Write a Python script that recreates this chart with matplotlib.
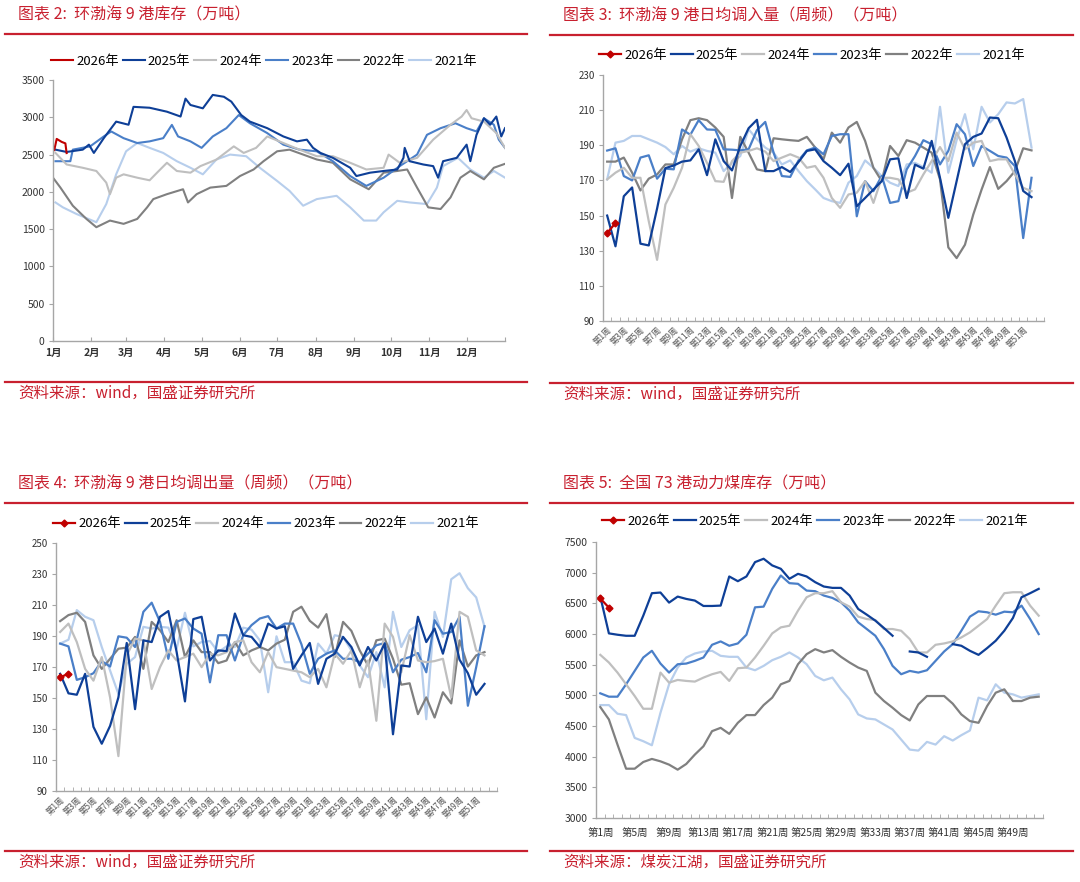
import matplotlib
matplotlib.use("Agg")
import matplotlib.pyplot as plt
import numpy as np
from matplotlib.lines import Line2D

plt.rcParams["font.family"] = ["Noto Sans CJK SC", "DejaVu Sans"]
plt.rcParams["axes.unicode_minus"] = False

W, H = 1080, 882
RED = "#C8202F"
AXIS_GREY = "#A6A6A6"
TEXT_GREY = "#333333"

years = ["2026年", "2025年", "2024年", "2023年", "2022年", "2021年"]
year_colors = ["#C00000", "#0E3F97", "#BFBFBF", "#4A7FC8", "#808080", "#B7CEEC"]

# ---- chart 2: 环渤海9港库存 (day of year, 万吨) ----
month_starts = [0, 31, 59, 90, 120, 151, 181, 212, 243, 273, 304, 334, 365]
month_labels = [f"{m}月" for m in range(1, 13)]

inv_days_2026 = [1, 3, 7, 10, 11]
inv_2026 = [2560, 2710, 2670, 2650, 2520]
inv_days_2025 = [2, 11, 24, 29, 33, 41, 51, 61, 65, 78, 92, 103, 107, 111, 121, 129, 138, 144,
                 152, 159, 173, 186, 197, 205, 210, 216, 226, 240, 245, 256, 267, 278, 283, 284,
                 288, 299, 307, 311, 315, 326, 334, 337, 342, 348, 353, 358, 362, 365]
inv_2025 = [2566, 2535, 2566, 2633, 2522, 2720, 2942, 2900, 3140, 3128, 3075, 3010, 3250, 3165,
            3120, 3300, 3275, 3210, 3030, 2942, 2854, 2743, 2677, 2700, 2590, 2522, 2456, 2323,
            2212, 2257, 2280, 2300, 2456, 2590, 2411, 2367, 2345, 2190, 2411, 2456, 2633, 2411,
            2765, 2987, 2900, 3010, 2743, 2854]
inv_days_2024 = [2, 11, 24, 35, 43, 46, 51, 57, 68, 78, 84, 92, 100, 111, 119, 132, 146, 154,
                 164, 173, 186, 199, 213, 226, 240, 253, 267, 271, 280, 294, 307, 321, 330, 334,
                 338, 348, 358, 365]
inv_2024 = [2522, 2367, 2323, 2280, 2124, 1969, 2190, 2235, 2190, 2155, 2257, 2390, 2280, 2257,
            2345, 2433, 2610, 2522, 2590, 2743, 2655, 2566, 2478, 2478, 2390, 2300, 2323, 2500,
            2390, 2456, 2700, 2900, 3010, 3097, 2987, 2942, 2788, 2590]
inv_days_2023 = [2, 14, 16, 30, 41, 47, 57, 68, 78, 89, 96, 101, 111, 120, 129, 140, 150, 159,
                 173, 186, 199, 213, 226, 240, 253, 267, 280, 294, 302, 313, 325, 334, 342, 348,
                 356, 360, 365]
inv_2023 = [2411, 2411, 2566, 2610, 2743, 2810, 2720, 2655, 2677, 2720, 2898, 2743, 2677, 2590,
            2743, 2854, 3030, 2920, 2788, 2633, 2566, 2544, 2411, 2212, 2080, 2190, 2345, 2500,
            2765, 2854, 2920, 2854, 2810, 2987, 2900, 2700, 2590]
inv_days_2022 = [0, 6, 16, 27, 35, 46, 57, 68, 76, 81, 92, 105, 109, 116, 127, 140, 151, 162,
                 170, 181, 191, 202, 213, 226, 240, 255, 267, 278, 286, 294, 303, 313, 321, 329,
                 337, 348, 356, 365]
inv_2022 = [2190, 2057, 1814, 1637, 1526, 1615, 1571, 1637, 1792, 1903, 1969, 2035, 1858, 1969,
            2057, 2080, 2212, 2300, 2411, 2544, 2566, 2500, 2434, 2390, 2168, 2035, 2257, 2280,
            2300, 2057, 1792, 1770, 1925, 2190, 2280, 2168, 2323, 2376]
inv_days_2021 = [2, 8, 19, 35, 43, 51, 59, 68, 78, 89, 100, 111, 121, 132, 143, 156, 167, 181,
                 191, 202, 213, 229, 240, 251, 261, 267, 278, 288, 302, 310, 315, 327, 337, 348,
                 356, 365]
inv_2021 = [1858, 1792, 1703, 1593, 1836, 2235, 2544, 2655, 2590, 2522, 2411, 2323, 2235, 2434,
            2500, 2478, 2323, 2146, 2013, 1814, 1903, 1947, 1792, 1615, 1615, 1726, 1880, 1858,
            1836, 2057, 2345, 2456, 2300, 2190, 2280, 2190]

# ---- chart 3: 日均调入量 (周频, 万吨) ----
in_2026 = [140, 145.8]
in_2025 = [150, 132.5, 161, 166, 134, 133, 154, 177, 178.5, 180.7, 181.4, 187.7, 173, 193.4, 181,
           175.7, 189.6, 199.7, 204.5, 175.3, 175.3, 177.6, 174.8, 180.5, 186.8, 187.7, 181, 177.2,
           173, 179.5, 155.3, 160, 164.8, 169.6, 182, 182.6, 160, 179, 176.7, 192.5, 171.5, 148.7,
           169.6, 190.6, 194.8, 196.7, 205.8, 205.4, 194.4, 181, 164, 160.5]
in_2024 = [170.6, 174.4, 177.2, 171.5, 171.5, 146.8, 124.8, 156.3, 165.8, 177.2, 196.3, 189.6, 180,
           169.6, 169.2, 181, 185.8, 186.8, 188.3, 186.4, 181, 183, 184.9, 183, 177.2, 178.2, 171.5,
           160, 154.4, 162, 163, 169.6, 157.2, 171.5, 171.5, 170.6, 163, 164.9, 173.4, 181, 189,
           181, 197.2, 187.7, 191.5, 192.5, 181, 182, 182, 173.4, 165.8, 163.9]
in_2023 = [187, 188.3, 172.5, 170, 183, 184.3, 171, 176.7, 176.3, 199, 196, 204.3, 199, 198.8,
           187.7, 187.5, 187.1, 187.7, 198.6, 203.3, 185.8, 172.5, 172, 181.4, 187.1, 188.7, 184.9,
           195.3, 196.3, 196.3, 149.6, 169.6, 163.9, 172.5, 157.2, 158.2, 176.3, 183.9, 192.9,
           190.6, 179.1, 186.8, 202, 196.3, 178.2, 189.6, 186.8, 183.9, 183, 178.2, 137.2, 171.5]
in_2022 = [180.7, 180.7, 183, 174.4, 164.3, 171, 173.4, 179.1, 179.1, 193.4, 204.3, 205.4, 204.3,
           200.1, 194.8, 160, 194.8, 185.8, 176.3, 175.3, 194, 193.4, 192.9, 192.5, 194.8, 188.7,
           182, 197.2, 191.5, 200.1, 203.3, 192.5, 177.2, 169.6, 189.6, 183.9, 192.9, 191.5, 188.7,
           185.8, 170.6, 131.9, 125.8, 133.4, 150.6, 164.8, 177.6, 165.2, 169.6, 175.3, 188.3, 187.1]
in_2021 = [170.6, 191.5, 192.5, 195.3, 195.3, 193.4, 191.5, 189, 184.9, 189.6, 186.4, 188.3, 186.8,
           185.8, 175.3, 180, 183.9, 199.1, 193.4, 188.7, 185.8, 179.1, 181.4, 175.3, 169.6, 164.9,
           160, 158.2, 157.2, 168.7, 172.5, 181.4, 177.2, 172.5, 168.7, 166.8, 179.1, 180, 177.6,
           174.4, 211.9, 174.4, 192.9, 207.7, 187.7, 211.9, 203, 207.7, 214.4, 213.8, 216.3, 188.7]

# ---- chart 4: 日均调出量 (周频, 万吨) ----
out_2026 = [163.4, 165.6]
out_2025 = [165.6, 153, 152.1, 165.6, 131.4, 120.5, 132, 150.4, 185.5, 142.8, 187.2, 186.1, 202.4,
            206.1, 179.6, 147.8, 200.9, 202.4, 174.2, 180.7, 180.3, 204.5, 190.5, 189.4, 182.9,
            198, 194.8, 196.3, 168.8, 177.5, 185.5, 159.1, 175.3, 178.6, 189.4, 182.9, 171, 182.9,
            174.2, 185.1, 126.6, 171, 170.3, 202.4, 186.1, 194.8, 178.6, 198, 174.7, 166, 152.1,
            159.1]
out_2024 = [192.6, 198, 186.1, 168.8, 161.2, 176.4, 150.4, 112.5, 177.5, 188.3, 187.2, 155.8, 169.9,
            180.7, 174.2, 176.4, 178.6, 169.9, 178.6, 177.5, 179.6, 186.1, 187.2, 173.1, 166.6,
            179.6, 169.9, 168.8, 167.7, 166.6, 163.4, 168.8, 156.9, 178.6, 172.1, 180.7, 156.9,
            174.2, 135.3, 198, 189.4, 166.6, 190.5, 174.2, 173.1, 173.8, 175.3, 150.4, 205.6, 202.4,
            180.7, 177.5]
out_2023 = [185.1, 183.3, 161.7, 163.4, 166, 173.8, 170.3, 189.8, 188.9, 182.9, 205.6, 211.5, 199.1,
            175.3, 199.1, 201.3, 194.8, 191.5, 160.1, 190.5, 190.5, 174.2, 190.5, 197, 201.3, 202.8,
            194.8, 198, 198, 184.6, 165.6, 175.3, 178.6, 180.7, 175.3, 175.3, 173.1, 178.6, 184,
            185.5, 166.6, 174.7, 176.4, 179, 166.6, 200.2, 191.5, 192.6, 202.4, 145, 169.9, 196.3]
out_2022 = [199.6, 203.5, 205, 199.1, 177.5, 168.8, 175.3, 181.8, 182.5, 189.4, 168.8, 199.1, 193.7,
            186.1, 200.2, 176.4, 187.2, 179.6, 179.6, 172.5, 174.2, 186.1, 177.5, 180.7, 182.9,
            180.7, 185.1, 187.6, 205.6, 208.9, 199.8, 195.4, 204.1, 176.4, 199.1, 193.3, 180.7, 171,
            187.2, 188.3, 175.3, 158.6, 159.5, 139.6, 150.4, 137.4, 153.7, 146.5, 187.2, 170.3,
            177.5, 179.6]
out_2021 = [185.1, 187.6, 206.7, 202.4, 200.2, 182.9, 167.7, 152.6, 172.1, 176.4, 195.9, 194.8,
            195.9, 195.4, 181.8, 205, 183.3, 186.1, 186.8, 179.6, 183.3, 182.9, 195.4, 194.1, 187.2,
            153.7, 189.8, 173.1, 173.1, 161.2, 159.5, 185.1, 178.6, 190.5, 189.4, 180.7, 171, 163.4,
            179.6, 156.9, 205.6, 182.9, 193.7, 197, 136.3, 205.6, 189.4, 226.6, 230.5, 220.8, 214.9,
            195.9]

# ---- chart 5: 全国73港动力煤库存 (周频, 万吨) ----
nan = np.nan
stock_2026 = [6580, 6430]
stock_2025 = [6610, 6010, 5988, 5971, 5971, 6299, 6665, 6676, 6512, 6610, 6572, 6545, 6457, 6457,
              6463, 6938, 6861, 6938, 7172, 7227, 7118, 7063, 6900, 6981, 6938, 6845, 6774, 6752,
              6752, 6627, 6408, 6315, 6217, 6097, 5971, nan, 5715, 5699, 5628, nan, nan, 5835,
              5808, 5726, 5660, 5770, 5890, 6053, 6261, 6599, 6665, 6736]
stock_2024 = [5660, 5535, 5371, 5180, 4989, 4781, 4781, 5371, 5207, 5251, 5235, 5224, 5289, 5344,
              5382, 5235, 5442, 5453, 5617, 5808, 6010, 6108, 6135, 6381, 6599, 6665, 6665, 6698,
              6517, 6446, 6283, 6244, 6228, 6081, 6081, 6053, 5917, 5699, 5699, 5824, 5846, 5879,
              5944, 6026, 6135, 6244, 6463, 6665, 6681, 6681, 6463, 6299]
stock_2023 = [5033, 4978, 4978, 5180, 5398, 5617, 5726, 5518, 5371, 5507, 5518, 5562, 5617, 5824,
              5879, 5808, 5846, 5988, 6435, 6446, 6736, 6954, 6829, 6818, 6708, 6698, 6627, 6588,
              6517, 6381, 6190, 6081, 5971, 5753, 5480, 5344, 5398, 5371, 5409, 5562, 5715, 5835,
              6053, 6283, 6370, 6354, 6315, 6364, 6354, 6463, 6244, 5999]
stock_2022 = [4809, 4607, 4197, 3804, 3804, 3913, 3963, 3924, 3870, 3788, 3881, 4034, 4170, 4416,
              4470, 4372, 4552, 4678, 4678, 4841, 4962, 5180, 5235, 5507, 5671, 5753, 5699, 5737,
              5628, 5535, 5453, 5398, 5043, 4907, 4798, 4678, 4590, 4852, 4989, 4989, 4989, 4864,
              4689, 4580, 4552, 4825, 5043, 5098, 4907, 4907, 4962, 4978]
stock_2021 = [4841, 4841, 4700, 4678, 4306, 4252, 4186, 4716, 5180, 5453, 5617, 5682, 5715, 5726,
              5644, 5628, 5628, 5453, 5409, 5480, 5573, 5628, 5699, 5617, 5507, 5316, 5245, 5289,
              5098, 4934, 4689, 4623, 4607, 4525, 4443, 4279, 4115, 4099, 4241, 4197, 4334, 4263,
              4350, 4427, 4962, 4918, 5180, 5043, 5016, 4962, 4989, 5016]


fig = plt.figure(figsize=(W / 100, H / 100), dpi=100)


def fx(px):
    return px / W


def fy(py):
    return 1 - py / H


def make_axes(left, top, right, bottom):
    ax = fig.add_axes([fx(left), fy(bottom), (right - left) / W, (bottom - top) / H])
    for side in ("top", "right"):
        ax.spines[side].set_visible(False)
    for side in ("left", "bottom"):
        ax.spines[side].set_color(AXIS_GREY)
        ax.spines[side].set_linewidth(1.0)
    ax.tick_params(axis="y", direction="out", length=3, color=AXIS_GREY,
                   labelsize=7.5, labelcolor=TEXT_GREY, pad=3)
    ax.tick_params(axis="x", which="both", direction="in", color=AXIS_GREY,
                   labelcolor=TEXT_GREY)
    return ax


def add_frame(x0, x1, title, title_x, title_y, rule_y, foot_rule_y, foot_y, source):
    fig.text(fx(title_x), fy(title_y), title, color=RED, fontsize=11.5, style="italic",
             ha="left", va="center")
    fig.add_artist(Line2D([fx(x0), fx(x1)], [fy(rule_y)] * 2, color=RED, lw=1.6))
    fig.add_artist(Line2D([fx(x0), fx(x1)], [fy(foot_rule_y)] * 2, color=RED, lw=1.6))
    fig.text(fx(title_x), fy(foot_y), source, color=RED, fontsize=11.2, style="italic",
             ha="left", va="center")


def add_legend(ax, handles, cx, cy):
    ax.legend(handles=handles, loc="center", bbox_to_anchor=(fx(cx), fy(cy)),
              bbox_transform=fig.transFigure, ncol=6, frameon=False, fontsize=9.5,
              handlelength=1.65, handletextpad=0.25, columnspacing=0.3,
              borderpad=0, borderaxespad=0)


def plot_years(ax, xs, series, lw, marker_first):
    handles = [None] * len(series)
    for i in reversed(range(len(series))):
        kw = {}
        if i == 0 and marker_first:
            kw = dict(marker="D", markersize=3.5)
        (line,) = ax.plot(xs[i], series[i], color=year_colors[i], lw=lw,
                          label=years[i], **kw)
        handles[i] = line
    return handles


# ---- chart 2 ----
add_frame(5, 527, "图表 2:  环渤海 9 港库存（万吨）", 18, 15, 33.5, 382, 393,
          "资料来源：wind，国盛证券研究所")
ax1 = make_axes(53, 80, 505, 341)
h = plot_years(
    ax1,
    [inv_days_2026, inv_days_2025, inv_days_2024, inv_days_2023, inv_days_2022, inv_days_2021],
    [inv_2026, inv_2025, inv_2024, inv_2023, inv_2022, inv_2021], 1.5, False)
ax1.set_xlim(0, 365)
ax1.set_ylim(0, 3500)
ax1.set_yticks(np.arange(0, 3501, 500))
ax1.set_xticks(month_starts)
ax1.set_xticklabels(month_labels + [""], fontsize=7.5, fontweight="bold")
ax1.tick_params(axis="x", length=3, pad=5)
add_legend(ax1, h, 264, 61)

# ---- weekly charts ----
weeks = np.arange(1, 53)


def weekly_axes(ax, n_cat, label_weeks, rotated):
    ax.set_xlim(0.5, n_cat + 0.5)
    ax.set_xticks(np.arange(0.5, n_cat + 0.6, 1), minor=True)
    ax.set_xticks(label_weeks)
    ax.set_xticklabels([f"第{w}周" for w in label_weeks])
    ax.tick_params(axis="x", which="minor", length=3)
    if rotated:
        ax.tick_params(axis="x", which="major", length=0, labelsize=6, pad=3,
                       labelcolor="#555555")
        for lab in ax.get_xticklabels():
            lab.set_rotation(45)
            lab.set_ha("right")
            lab.set_rotation_mode("anchor")
    else:
        ax.tick_params(axis="x", which="major", length=0, labelsize=7.5, pad=7)


# chart 3
add_frame(550, 1073, "图表 3:  环渤海 9 港日均调入量（周频）（万吨）", 563, 16, 34.5, 382.5, 394,
          "资料来源：wind，国盛证券研究所")
ax2 = make_axes(603, 75, 1044, 321)
h = plot_years(ax2, [weeks[:2]] + [weeks] * 5,
               [in_2026, in_2025, in_2024, in_2023, in_2022, in_2021], 1.6, True)
ax2.set_ylim(90, 230)
ax2.set_yticks(np.arange(90, 231, 20))
weekly_axes(ax2, 53, list(range(1, 52, 2)), True)
ax2.tick_params(axis="y", labelsize=7)
add_legend(ax2, h, 812, 55)

# chart 4
add_frame(5, 527, "图表 4:  环渤海 9 港日均调出量（周频）（万吨）", 18, 484, 503, 851, 862,
          "资料来源：wind，国盛证券研究所")
ax3 = make_axes(56, 543, 497, 791)
h = plot_years(ax3, [weeks[:2]] + [weeks] * 5,
               [out_2026, out_2025, out_2024, out_2023, out_2022, out_2021], 1.6, True)
ax3.set_ylim(90, 250)
ax3.set_yticks(np.arange(90, 251, 20))
weekly_axes(ax3, 53, list(range(1, 52, 2)), True)
ax3.tick_params(axis="y", labelsize=7)
add_legend(ax3, h, 266, 524)

# chart 5
add_frame(550, 1073, "图表 5:  全国 73 港动力煤库存（万吨）", 563, 484, 503, 851, 862,
          "资料来源：煤炭江湖，国盛证券研究所")
ax4 = make_axes(596, 542, 1043, 818)
h = plot_years(ax4, [weeks[:2]] + [weeks] * 5,
               [stock_2026, stock_2025, stock_2024, stock_2023, stock_2022, stock_2021], 1.6, True)
ax4.set_ylim(3000, 7500)
ax4.set_yticks(np.arange(3000, 7501, 500))
weekly_axes(ax4, 52, list(range(1, 50, 4)), False)
add_legend(ax4, h, 815, 521)

fig.savefig("out.png", dpi=100)
